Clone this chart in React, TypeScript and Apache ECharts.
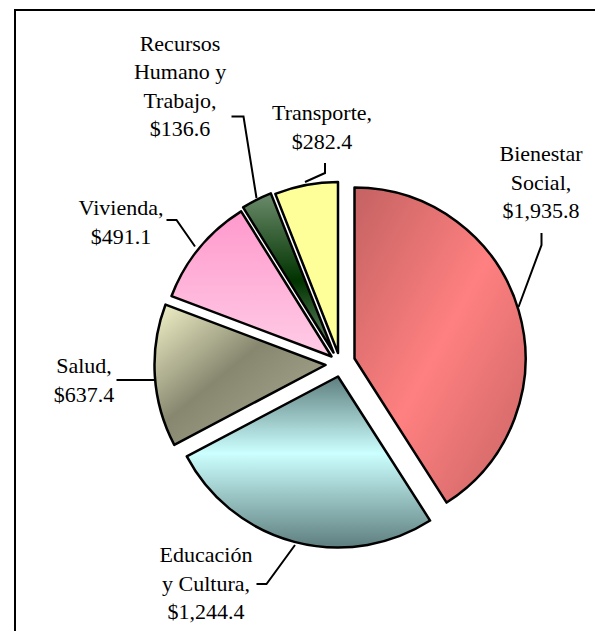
import React, { useEffect, useRef } from "react";
import * as echarts from "echarts";

// ---- Data ----
const categories = [
  "Bienestar Social",
  "Educación y Cultura",
  "Salud",
  "Vivienda",
  "Recursos Humano y Trabajo",
  "Transporte",
];
const values = [1935.8, 1244.4, 637.4, 491.1, 136.6, 282.4];
// label text lines (as wrapped in the original)
const labelNames = [
  ["Bienestar", "Social,"],
  ["Educación", "y Cultura,"],
  ["Salud,"],
  ["Vivienda,"],
  ["Recursos", "Humano y", "Trabajo,"],
  ["Transporte,"],
];

// ---- Layout / style (not data) ----
const sliceCenters: [number, number][] = [
  [354.5, 358.5],
  [338, 376.5],
  [325.5, 365],
  [331.5, 356.5],
  [333.5, 352.5],
  [338, 353],
];
const RADIUS = 171;
const labelPos: [number, number][] = [
  [541, 182],
  [206, 583],
  [84, 380],
  [121, 222],
  [180, 86],
  [322, 127],
];
const linePts: [number, number][][] = [
  [[541.5, 233], [541.5, 245], [518.5, 307]],
  [[256.5, 584], [266.5, 584], [295, 545]],
  [[116.5, 380], [135, 380], [154, 380]],
  [[166.5, 220], [176.5, 220], [195, 246.5]],
  [[231.5, 116.5], [243.5, 116.5], [256.5, 198]],
  [[325, 163], [325, 173], [305, 182]],
];
const fills: any[] = [
  {
    type: "linear", x: 0, y: 0, x2: 1, y2: 1,
    colorStops: [
      { offset: 0, color: "#C46262" },
      { offset: 0.5, color: "#FF8080" },
      { offset: 1, color: "#C86464" },
    ],
  },
  {
    type: "linear", x: 0, y: 0, x2: 0, y2: 1,
    colorStops: [
      { offset: 0, color: "#5E7E7E" },
      { offset: 0.45, color: "#CCFFFF" },
      { offset: 1, color: "#5E7E7E" },
    ],
  },
  {
    type: "linear", x: 0, y: 0, x2: 1, y2: 1,
    colorStops: [
      { offset: 0, color: "#F3F3C9" },
      { offset: 0.45, color: "#878770" },
      { offset: 1, color: "#B0B098" },
    ],
  },
  {
    type: "linear", x: 0, y: 0, x2: 0, y2: 1,
    colorStops: [
      { offset: 0, color: "#FF99CC" },
      { offset: 1, color: "#FFCCE6" },
    ],
  },
  {
    type: "linear", x: 0, y: 0, x2: 0, y2: 1,
    colorStops: [
      { offset: 0, color: "#6B8B6B" },
      { offset: 0.55, color: "#003300" },
      { offset: 1, color: "#6E8E6E" },
    ],
  },
  "#FFFF99",
];

const FONT = "serif";
const FONT_SIZE = 22;
const LINE_H = 28.5;

function fmt(v: number) {
  return "$" + v.toLocaleString("en-US", { minimumFractionDigits: 1, maximumFractionDigits: 1 });
}

export default function App() {
  const ref = useRef<HTMLDivElement>(null);
  useEffect(() => {
    if (!ref.current) return;
    document.body.style.margin = "0";
    const chart = echarts.init(ref.current, undefined, { renderer: "svg" });
    const series = categories.map((_, si) => ({
      type: "pie",
      center: sliceCenters[si],
      radius: [0, RADIUS],
      startAngle: 90,
      clockwise: true,
      silent: true,
      emphasis: { disabled: true },
      label: { show: false },
      labelLine: { show: false },
      data: categories.map((name, i) => ({
        name,
        value: values[i],
        itemStyle:
          i === si
            ? { color: fills[i], borderColor: "#000", borderWidth: 2.5 }
            : { color: "rgba(0,0,0,0)", borderWidth: 0 },
      })),
    }));

    const labelGraphics: any[] = [];
    categories.forEach((_, i) => {
      const lines = [...labelNames[i], fmt(values[i])];
      const n = lines.length;
      lines.forEach((ln, k) => {
        labelGraphics.push({
          type: "text",
          x: labelPos[i][0],
          y: labelPos[i][1] + (k - (n - 1) / 2) * LINE_H,
          style: {
            text: ln,
            fontFamily: FONT,
            fontSize: FONT_SIZE,
            fontStyle: "normal",
            fontWeight: "normal",
            fill: "#000",
            align: "center",
            verticalAlign: "middle",
          },
        });
      });
      labelGraphics.push({
        type: "polyline",
        shape: { points: linePts[i] },
        style: { stroke: "#000", lineWidth: 2, fill: "none" },
      });
    });

    chart.setOption({
      animation: false,
      graphic: [
        {
          type: "rect",
          shape: { x: 15, y: 10, width: 700, height: 700 },
          style: { fill: "none", stroke: "#000", lineWidth: 2 },
        },
        ...labelGraphics,
      ],
      series,
    });
    return () => chart.dispose();
  }, []);
  return (
    <div style={{ position: "relative", width: 595, height: 631, overflow: "hidden", background: "#fff" }}>
      <div ref={ref} style={{ position: "absolute", left: 0, top: 0, width: 595, height: 631 }} />
    </div>
  );
}
